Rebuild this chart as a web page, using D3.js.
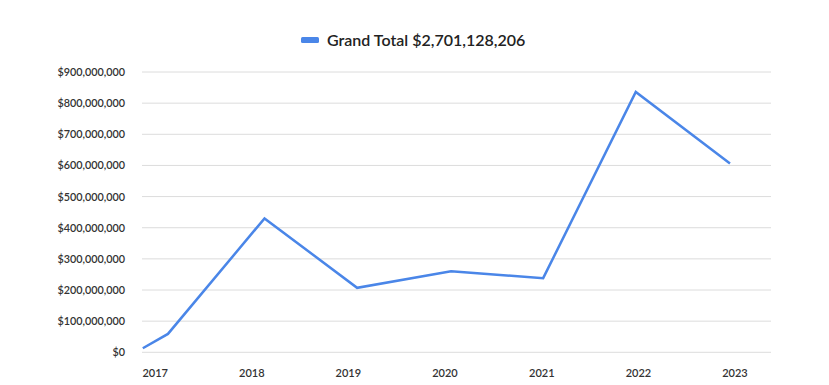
<!DOCTYPE html>
<html>
<head>
<meta charset="utf-8">
<script src="https://cdn.jsdelivr.net/npm/d3@7"></script>
<style>
body { margin: 0; background: #fff; }
text { font-family: Lato, "Open Sans", sans-serif; }
</style>
</head>
<body>
<script>
const w = 829;
const h = 385;

// data
const dates = ['2016-11-17', '2017-02-20', '2018-02-20', '2019-02-05', '2020-01-26', '2021-01-08', '2021-12-24', '2022-12-15'];
const totals = [13000000, 59000000, 430000000, 207000000, 260000000, 238000000, 836000000, 606000000];
const yearTicks = ['2017', '2018', '2019', '2020', '2021', '2022', '2023'];
const yTicks = [0, 100000000, 200000000, 300000000, 400000000, 500000000, 600000000, 700000000, 800000000, 900000000];
const seriesName = 'Grand Total $2,701,128,206';

const parse = d3.timeParse('%Y-%m-%d');
const data = dates.map((d, i) => ({date: parse(d), value: totals[i]}));

const svg = d3.select('body').append('svg').attr('width', w).attr('height', h);

const xScale = d3.scaleTime()
  .domain([parse('2016-11-14'), parse('2023-05-19')])
  .range([142, 771]);
const yScale = d3.scaleLinear().domain([0, 900000000]).range([352.3, 72]);

// gridlines
svg.append('g').selectAll('line').data(yTicks).enter()
  .append('line')
  .attr('x1', 142).attr('x2', 771)
  .attr('y1', d => yScale(d)).attr('y2', d => yScale(d))
  .attr('stroke', '#dcdcdc').attr('stroke-width', 1);

// y axis labels
const fmt = d3.format('$,');
const yAxis = d3.axisLeft(yScale).tickValues(yTicks).tickFormat(d => fmt(d)).tickSize(0).tickPadding(17);
const gy = svg.append('g').attr('transform', 'translate(142,0)').call(yAxis);
gy.select('.domain').remove();
gy.selectAll('text').attr('font-family', 'Lato, sans-serif').attr('font-size', 10.8).attr('font-weight', 600).attr('fill', '#333');

// x axis labels
const xAxis = d3.axisBottom(xScale)
  .tickValues(yearTicks.map(y => parse(y + '-01-01')))
  .tickFormat(d3.timeFormat('%Y')).tickSize(0).tickPadding(0);
const gx = svg.append('g').attr('transform', 'translate(0,369)').call(xAxis);
gx.select('.domain').remove();
gx.selectAll('text').attr('font-family', 'Lato, sans-serif').attr('font-size', 11).attr('font-weight', 600).attr('fill', '#333');

// line
const line = d3.line().x(d => xScale(d.date)).y(d => yScale(d.value));
svg.append('path').datum(data)
  .attr('d', line)
  .attr('fill', 'none')
  .attr('stroke', '#4a86e8')
  .attr('stroke-width', 2.5)
  .attr('stroke-linejoin', 'miter');

// legend
svg.append('rect').attr('x', 301).attr('y', 37).attr('width', 18).attr('height', 6).attr('rx', 1.5).attr('fill', '#4a86e8');
svg.append('text').attr('x', 327).attr('y', 46)
  .attr('font-size', 16).attr('font-weight', 600).attr('fill', '#222')
  .text(seriesName);
</script>
</body>
</html>
